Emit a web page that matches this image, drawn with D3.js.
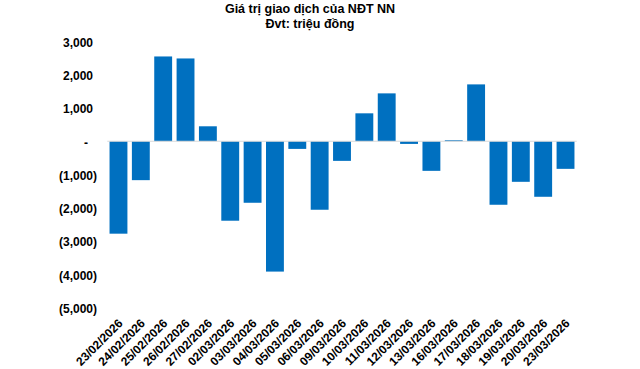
<!DOCTYPE html>
<html>
<head>
<meta charset="utf-8">
<script src="https://cdn.jsdelivr.net/npm/d3@7"></script>
<style>
  html, body { margin: 0; padding: 0; background: #fff; }
  svg { display: block; font-family: "Liberation Sans", Arial, sans-serif; }
</style>
</head>
<body>
<script>
const categories = ["23/02/2026","24/02/2026","25/02/2026","26/02/2026","27/02/2026","02/03/2026","03/03/2026","04/03/2026","05/03/2026","06/03/2026","09/03/2026","10/03/2026","11/03/2026","12/03/2026","13/03/2026","16/03/2026","17/03/2026","18/03/2026","19/03/2026","20/03/2026","23/03/2026"];
const values = [-2780, -1170, 2550, 2490, 450, -2390, -1850, -3920, -230, -2060, -590, 840, 1440, -80, -890, 30, 1710, -1910, -1220, -1670, -830];
const yTicks = [3000, 2000, 1000, 0, -1000, -2000, -3000, -4000, -5000];
const titleLines = ["Giá trị giao dịch của NĐT NN", "Đvt: triệu đồng"];

const W = 640, H = 369;
const svg = d3.select("body").append("svg").attr("width", W).attr("height", H);

const x = d3.scaleBand().domain(categories).range([107.3, 576.7]).paddingInner(0.2).paddingOuter(0.1);
const y = d3.scaleLinear().domain([-5000, 3000]).range([307.5, 41.5]);

// title
svg.append("g").selectAll("text").data(titleLines).join("text")
  .attr("x", 310).attr("y", (d, i) => 13 + i * 14.5)
  .attr("text-anchor", "middle")
  .attr("font-size", 12.5).attr("font-weight", "bold").attr("fill", "#000")
  .text(d => d);

// y axis labels
const fmt = v => v === 0 ? "-" : v < 0 ? "(" + d3.format(",")(-v) + ")" : d3.format(",")(v);
const yAxis = d3.axisLeft(y).tickValues(yTicks).tickSize(0).tickPadding(0).tickFormat(fmt);
const gy = svg.append("g").attr("transform", "translate(97,0)").call(yAxis);
gy.select(".domain").remove();
gy.selectAll("text")
  .attr("font-size", 12).attr("font-weight", "bold").attr("fill", "#000")
  .attr("font-family", "Liberation Sans, Arial, sans-serif")
  .attr("dy", "0.4em")
  .attr("dx", d => d === 0 ? -9 : d > 0 ? -4 : 0);

// bars
svg.append("g").selectAll("rect").data(values).join("rect")
  .attr("x", (d, i) => x(categories[i]))
  .attr("width", x.bandwidth())
  .attr("y", d => y(Math.max(0, d)))
  .attr("height", d => Math.abs(y(d) - y(0)))
  .attr("fill", "#0070C0");

// zero line
svg.append("line")
  .attr("x1", x.range()[0]).attr("x2", x.range()[1])
  .attr("y1", y(0)).attr("y2", y(0))
  .attr("stroke", "#d9d9d9").attr("stroke-width", 1);

// x labels
const xAxis = d3.axisBottom(x).tickSize(0).tickPadding(0);
const gx = svg.append("g").attr("transform", "translate(2,321)").call(xAxis);
gx.select(".domain").remove();
gx.selectAll("text")
  .attr("font-size", 12).attr("font-weight", "bold").attr("fill", "#000")
  .attr("font-family", "Liberation Sans, Arial, sans-serif")
  .attr("text-anchor", "end")
  .attr("y", 0).attr("dy", "0.35em")
  .attr("transform", "rotate(-45)");
</script>
</body>
</html>
